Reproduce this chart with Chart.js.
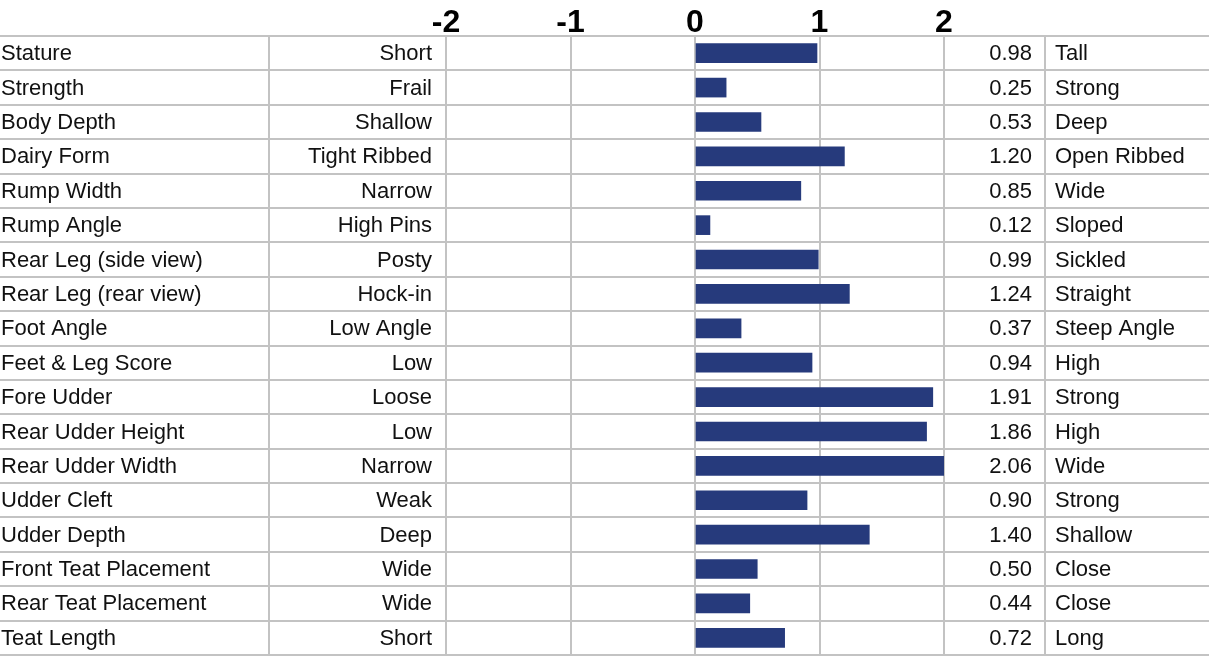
<!DOCTYPE html>
<html>
<head>
<meta charset="utf-8">
<title>Linear type traits</title>
<script src="https://cdn.jsdelivr.net/npm/chart.js@4.4.1/dist/chart.umd.min.js"></script>
<style>
  html, body { margin: 0; padding: 0; background: #fff; }
  #wrap { width: 1211px; height: 662px; position: relative; }
</style>
</head>
<body>
<div id="wrap"><canvas id="traits"></canvas></div>
<script>
// ---- data ----
const traits = [
  'Stature', 'Strength', 'Body Depth', 'Dairy Form', 'Rump Width', 'Rump Angle',
  'Rear Leg (side view)', 'Rear Leg (rear view)', 'Foot Angle', 'Feet & Leg Score',
  'Fore Udder', 'Rear Udder Height', 'Rear Udder Width', 'Udder Cleft', 'Udder Depth',
  'Front Teat Placement', 'Rear Teat Placement', 'Teat Length'
];
const lowLabels = [
  'Short', 'Frail', 'Shallow', 'Tight Ribbed', 'Narrow', 'High Pins',
  'Posty', 'Hock-in', 'Low Angle', 'Low',
  'Loose', 'Low', 'Narrow', 'Weak', 'Deep',
  'Wide', 'Wide', 'Short'
];
const highLabels = [
  'Tall', 'Strong', 'Deep', 'Open Ribbed', 'Wide', 'Sloped',
  'Sickled', 'Straight', 'Steep Angle', 'High',
  'Strong', 'High', 'Wide', 'Strong', 'Shallow',
  'Close', 'Close', 'Long'
];
const values = [
  0.98, 0.25, 0.53, 1.20, 0.85, 0.12,
  0.99, 1.24, 0.37, 0.94,
  1.91, 1.86, 2.06, 0.90, 1.40,
  0.50, 0.44, 0.72
];
const scaleTicks = [-2, -1, 0, 1, 2];

// ---- look ----
const INK = '#111';
const RULE = '#c3c3c3';
const BAR = '#263a7c';
const TEXT_FONT = '22px "Liberation Sans", Arial, sans-serif';

// table columns around the plot (pixels)
const COL = {
  traitLeft: 1,
  lowRight: 432,
  divider1: 269,
  valueRight: 1032,
  divider2: 1045,
  highLeft: 1055,
  ruleEnd: 1209
};

/* draws the table rules and the four text columns, aligned to the y scale */
const tablePlugin = {
  id: 'traitTable',
  beforeDatasetsDraw(chart) {
    const { ctx } = chart;
    const y = chart.scales.y;
    const step = (y.bottom - y.top) / traits.length;
    ctx.save();
    ctx.strokeStyle = RULE;
    ctx.lineWidth = 2;
    ctx.beginPath();
    for (let i = 0; i <= traits.length; i++) {
      const yy = Math.round(y.top + i * step);
      ctx.moveTo(0, yy);
      ctx.lineTo(COL.ruleEnd, yy);
    }
    [COL.divider1, COL.divider2].forEach((x) => {
      ctx.moveTo(x, y.top);
      ctx.lineTo(x, y.bottom);
    });
    ctx.stroke();
    ctx.restore();
  },
  afterDraw(chart) {
    const { ctx } = chart;
    const y = chart.scales.y;
    ctx.save();
    ctx.font = TEXT_FONT;
    ctx.fillStyle = INK;
    ctx.textBaseline = 'middle';
    traits.forEach((t, i) => {
      const yc = y.getPixelForValue(i) + 1;
      ctx.textAlign = 'left';
      ctx.fillText(t, COL.traitLeft, yc);
      ctx.fillText(highLabels[i], COL.highLeft, yc);
      ctx.textAlign = 'right';
      ctx.fillText(lowLabels[i], COL.lowRight, yc);
      ctx.fillText(values[i].toFixed(2), COL.valueRight, yc);
    });
    ctx.restore();
  }
};

new Chart(document.getElementById('traits'), {
  type: 'bar',
  data: {
    labels: traits,
    datasets: [{
      data: values,
      backgroundColor: BAR,
      borderWidth: 0,
      barThickness: 19
    }]
  },
  options: {
    indexAxis: 'y',
    responsive: true,
    maintainAspectRatio: false,
    devicePixelRatio: 1,
    animation: false,
    layout: { padding: { left: 446, right: 267, top: 0, bottom: 7 } },
    plugins: { legend: { display: false }, tooltip: { enabled: false } },
    scales: {
      x: {
        position: 'top',
        min: scaleTicks[0],
        max: scaleTicks[scaleTicks.length - 1],
        afterBuildTicks: (scale) => { scale.ticks = scaleTicks.map((v) => ({ value: v })); },
        afterFit: (scale) => { scale.height = 36; },
        border: { display: false },
        grid: { color: RULE, lineWidth: 2, drawTicks: false },
        ticks: {
          color: '#000',
          padding: -3,
          font: { family: '"Liberation Sans", Arial, sans-serif', size: 32, weight: 'bold', lineHeight: 1 }
        }
      },
      y: { display: false }
    }
  },
  plugins: [tablePlugin]
});
</script>
</body>
</html>
